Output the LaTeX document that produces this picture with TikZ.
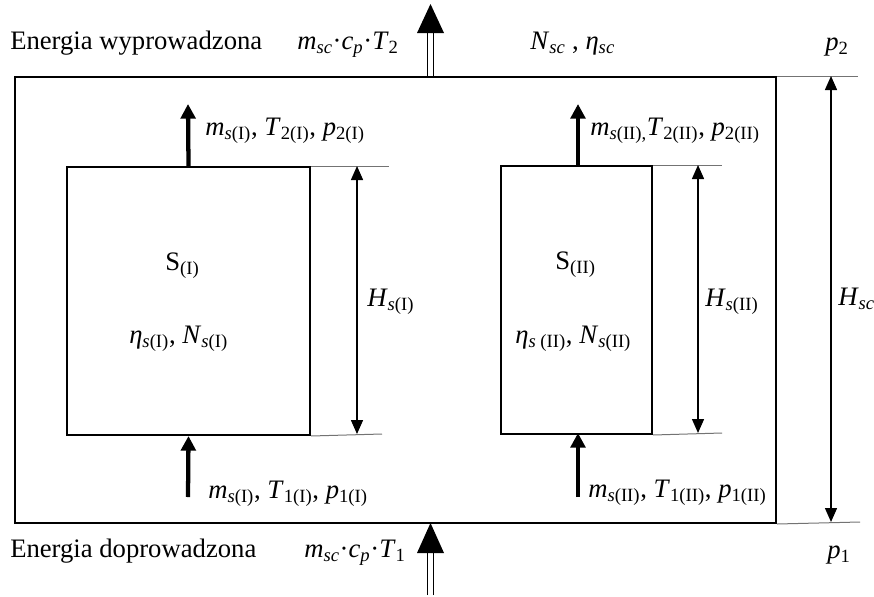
\documentclass[tikz,border=0pt]{standalone}
\usepackage{fontspec}
\setmainfont{Liberation Serif}
\usetikzlibrary{arrows.meta}
\newcommand\sbs[1]{\textsubscript{#1}}
\newcommand\itl[1]{\textit{#1}}
\begin{document}
\begin{tikzpicture}[x=0.75pt,y=-0.75pt, font=\fontsize{20}{24}\selectfont,
  lbl/.style={anchor=base west, inner sep=0pt},
  boxst/.style={draw, line width=1.5pt, anchor=north west, inner sep=0pt},
  ext/.style={draw=black!55, line width=0.75pt},
  thickarr/.style={line width=3.2pt, -{Triangle[width=11pt,length=11pt]}},
  dimarr/.style={line width=1.1pt, {Triangle[width=9pt,length=10.5pt]}-{Triangle[width=9pt,length=10.5pt]}},
  dblshaft/.style={line width=1.1pt},
]
\useasboundingbox (0,0) rectangle (874,596);

% boxes
\node[boxst, minimum width=570.75pt, minimum height=334.5pt] (outer) at (14,76) {};
\node[boxst, minimum width=182.25pt, minimum height=201pt] (b1) at (66,166) {};
\node[boxst, minimum width=113.25pt, minimum height=201pt] (b2) at (500,165) {};

% extension lines and dimension arrows
\coordinate (e1t) at (389,166); \coordinate (e1b) at (382,434);
\draw[ext] (b1.north east) -- (e1t);
\draw[ext] (b1.south east) -- (e1b);
\coordinate (d1t) at (357,166); \coordinate (d1b) at (357,434);
\draw[dimarr] (d1t) -- (d1b);

\coordinate (e2t) at (722,165); \coordinate (e2b) at (722,433);
\draw[ext] (b2.north east) -- (e2t);
\draw[ext] (b2.south east) -- (e2b);
\coordinate (d2t) at (698,165); \coordinate (d2b) at (698,433);
\draw[dimarr] (d2t) -- (d2b);

\coordinate (e3t) at (858,76); \coordinate (e3b) at (860,522);
\draw[ext] (outer.north east) -- (e3t);
\draw[ext] (outer.south east) -- (e3b);
\coordinate (d3t) at (831,76); \coordinate (d3b) at (831,522);
\draw[dimarr] (d3t) -- (d3b);

% thick flow arrows
\coordinate (a1t) at (188,104);
\draw[thickarr] (b1.north) -- (a1t);
\coordinate (a1b) at (188,497);
\draw[thickarr] (a1b) -- (b1.south);
\coordinate (b2top) at (578,165); \coordinate (a2t) at (578,104);
\draw[thickarr] (b2top) -- (a2t);
\coordinate (b2bot) at (578,433); \coordinate (a2b) at (578,497);
\draw[thickarr] (a2b) -- (b2bot);

% double arrows (energy)
\coordinate (tt) at (430.5,4);
\fill (417,33) -- (444,33) -- (tt) -- cycle;
\draw[dblshaft] (427.5,76) -- (427.5,33);
\draw[dblshaft] (433.5,76) -- (433.5,33);
\coordinate (bt) at (430.5,523);
\fill (417,553) -- (444,553) -- (bt) -- cycle;
\draw[dblshaft] (427.5,595) -- (427.5,553);
\draw[dblshaft] (433.5,595) -- (433.5,553);

% labels outside
\node[lbl] (ewy) at (10,49) {Energia wyprowadzona};
\node[lbl] (mt2) at (297,49) {\itl{m}\sbs{\itl{sc}}·\itl{c}\sbs{\itl{p}}·\itl{T}\sbs{2}};
\node[lbl] (nsc) at (530,49) {\itl{N}\sbs{\itl{sc}} , \itl{η}\sbs{\itl{sc}}};
\node[lbl] (p2) at (825,50) {\itl{p}\sbs{2}};
\node[lbl] (edo) at (10,557) {Energia doprowadzona};
\node[lbl] (mt1) at (304,557) {\itl{m}\sbs{\itl{sc}}·\itl{c}\sbs{\itl{p}}·\itl{T}\sbs{1}};
\node[lbl] (p1) at (827,558) {\itl{p}\sbs{1}};

% labels of flows
\node[lbl] (l1t) at (205,135) {\itl{m}\sbs{\itl{s}(I)}, \itl{T}\sbs{2(I)}, \itl{p}\sbs{2(I)}};
\node[lbl] (l1b) at (208,498) {\itl{m}\sbs{\itl{s}(I)}, \itl{T}\sbs{1(I)}, \itl{p}\sbs{1(I)}};
\node[lbl] (l2t) at (590,135) {\itl{m}\sbs{\itl{s}(II),}\itl{T}\sbs{2(II)}, \itl{p}\sbs{2(II)}};
\node[lbl] (l2b) at (588,497) {\itl{m}\sbs{\itl{s}(II)}, \itl{T}\sbs{1(II)}, \itl{p}\sbs{1(II)}};

% dimension labels
\node[lbl] (h1) at (367,306) {\itl{H}\sbs{\itl{s}(I)}};
\node[lbl] (h2) at (705,306) {\itl{H}\sbs{\itl{s}(II)}};
\node[lbl] (h3) at (838,305) {\itl{H}\sbs{\itl{sc}}};

% box contents
\node[lbl] (s1) at (165,270) {S\sbs{(I)}};
\node[lbl] (n1) at (129,343) {\itl{η}\sbs{\itl{s}(I)}, \itl{N}\sbs{\itl{s}(I)}};
\node[lbl] (s2) at (555,269) {S\sbs{(II)}};
\node[lbl] (n2) at (515,343) {\itl{η}\sbs{\itl{s} (II)}, \itl{N}\sbs{\itl{s}(II)}};
\end{tikzpicture}
\end{document}
